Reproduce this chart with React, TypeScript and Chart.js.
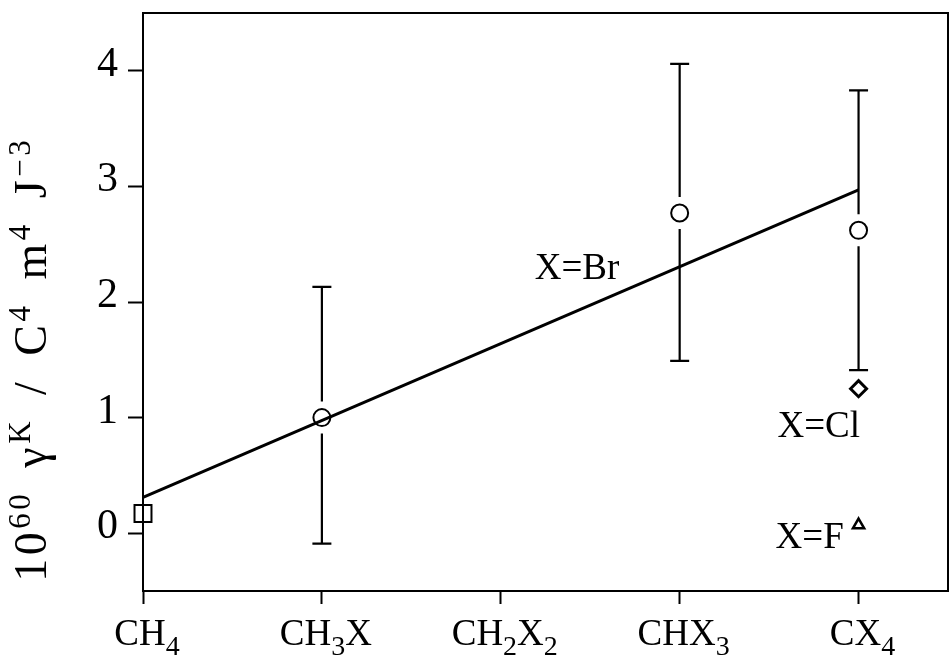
import { useEffect, useRef } from 'react';
import { Chart, registerables } from 'chart.js';

Chart.register(...registerables);

// Category axis: "_" marks a one-character subscript
const categories = ['CH_4', 'CH_3X', 'CH_2X_2', 'CHX_3', 'CX_4'];
const yTicks = [0, 1, 2, 3, 4];
// Axis title: "^{...}" marks a superscript
const yTitle = '10^{60} γ^{K} / C^{4} m^{4} J^{−3}';

// X = Br series (index on the category axis, value and error limits)
const brIndex = [1, 3, 4];
const brValue = [1.0, 2.77, 2.62];
const brLow = [-0.09, 1.49, 1.41];
const brHigh = [2.13, 4.06, 3.83];

// Straight-line fit through the bromide series
const fitIndex = [0, 4];
const fitValue = [0.31, 2.97];

// Single points
const ch4Index = 0;
const ch4Value = 0.17;
const clIndex = 4;
const clValue = 1.25;
const fIndex = 4;
const fValue = 0.07;

// Text labels anchored in data coordinates (left edge, baseline)
const labelText = ['X=Br', 'X=Cl', 'X=F'];
const labelX = [2.19, 3.547, 3.536];
const labelY = [2.2, 0.835, -0.13];

const SERIF = "'Liberation Serif', 'Times New Roman', serif";

type Tok = { t: string; k: 'base' | 'sub' | 'sup' };

function parseRich(s: string): Tok[] {
  const out: Tok[] = [];
  let buf = '';
  const flush = () => {
    if (buf) out.push({ t: buf, k: 'base' });
    buf = '';
  };
  for (let i = 0; i < s.length; i++) {
    const c = s[i];
    if (c === '_') {
      flush();
      out.push({ t: s[i + 1], k: 'sub' });
      i++;
    } else if (c === '^' && s[i + 1] === '{') {
      flush();
      const end = s.indexOf('}', i);
      out.push({ t: s.slice(i + 2, end), k: 'sup' });
      i = end;
    } else {
      buf += c;
    }
  }
  flush();
  return out;
}

type RichStyle = {
  base: number;
  small: number;
  subDy: number;
  supDy: number;
  spacing: number;
  wordGap: number;
};

function advance(ctx: CanvasRenderingContext2D, ch: string, st: RichStyle) {
  return ctx.measureText(ch).width + st.spacing + (ch === ' ' ? st.wordGap : 0);
}

function richWidth(ctx: CanvasRenderingContext2D, toks: Tok[], st: RichStyle) {
  let w = 0;
  for (const tk of toks) {
    ctx.font = `${tk.k === 'base' ? st.base : st.small}px ${SERIF}`;
    for (const ch of tk.t) w += advance(ctx, ch, st);
  }
  return w - st.spacing;
}

function drawRich(ctx: CanvasRenderingContext2D, toks: Tok[], x: number, y: number, st: RichStyle) {
  let cx = x;
  ctx.textAlign = 'left';
  ctx.textBaseline = 'alphabetic';
  for (const tk of toks) {
    ctx.font = `${tk.k === 'base' ? st.base : st.small}px ${SERIF}`;
    const dy = tk.k === 'sub' ? st.subDy : tk.k === 'sup' ? st.supDy : 0;
    for (const ch of tk.t) {
      ctx.fillText(ch, cx, y + dy);
      cx += advance(ctx, ch, st);
    }
  }
}

const decorPlugin = {
  id: 'decor',
  afterDatasetsDraw(chart: any) {
    const { ctx, chartArea, scales } = chart;
    const xs = scales.x;
    const ys = scales.y;
    ctx.save();
    ctx.strokeStyle = '#000';
    ctx.fillStyle = '#000';

    // frame
    ctx.lineWidth = 2;
    ctx.strokeRect(chartArea.left, chartArea.top, chartArea.right - chartArea.left, chartArea.bottom - chartArea.top);

    // error bars, interrupted around the circle markers
    const gap = 16;
    const cap = 9.5;
    ctx.lineWidth = 2.2;
    brIndex.forEach((xi, i) => {
      const px = xs.getPixelForValue(xi);
      const pc = ys.getPixelForValue(brValue[i]);
      const pt = ys.getPixelForValue(brHigh[i]);
      const pb = ys.getPixelForValue(brLow[i]);
      ctx.beginPath();
      ctx.moveTo(px, pt);
      ctx.lineTo(px, pc - gap);
      ctx.moveTo(px, pc + gap);
      ctx.lineTo(px, pb);
      ctx.moveTo(px - cap, pt);
      ctx.lineTo(px + cap, pt);
      ctx.moveTo(px - cap, pb);
      ctx.lineTo(px + cap, pb);
      ctx.stroke();
    });

    // in-plot labels
    ctx.font = `37px ${SERIF}`;
    ctx.textAlign = 'left';
    ctx.textBaseline = 'alphabetic';
    labelText.forEach((t, i) => {
      ctx.fillText(t, xs.getPixelForValue(labelX[i]), ys.getPixelForValue(labelY[i]));
    });

    // category labels with subscripts
    const xStyle: RichStyle = { base: 37, small: 28, subDy: 10, supDy: 0, spacing: 0, wordGap: 0 };
    categories.forEach((c, i) => {
      const toks = parseRich(c);
      const w = richWidth(ctx, toks, xStyle);
      const px = xs.getPixelForValue(i) + 4;
      drawRich(ctx, toks, px - w / 2, chartArea.bottom + 54, xStyle);
    });

    // rotated y-axis title with superscripts
    const tStyle: RichStyle = { base: 46, small: 31, subDy: 0, supDy: -16, spacing: 3.5, wordGap: 8 };
    const toks = parseRich(yTitle);
    const tw = richWidth(ctx, toks, tStyle);
    ctx.translate(46, 361);
    ctx.rotate(-Math.PI / 2);
    drawRich(ctx, toks, -tw / 2, 0, tStyle);
    ctx.restore();
  },
};

export default function App() {
  const ref = useRef<HTMLCanvasElement | null>(null);

  useEffect(() => {
    if (!ref.current) return;
    const point = (x: number, y: number) => ({ x, y });
    const chart = new Chart(ref.current, {
      type: 'scatter',
      data: {
        datasets: [
          {
            type: 'line',
            data: fitIndex.map((x, i) => point(x, fitValue[i])),
            borderColor: '#000',
            borderWidth: 3,
            pointRadius: 0,
            fill: false,
          },
          {
            data: brIndex.map((x, i) => point(x, brValue[i])),
            pointStyle: 'circle',
            pointRadius: 8.5,
            pointBorderWidth: 2,
            pointBorderColor: '#000',
            pointBackgroundColor: '#fff',
          },
          {
            data: [point(ch4Index, ch4Value)],
            pointStyle: 'rect',
            pointRadius: 12,
            pointBorderWidth: 2,
            pointBorderColor: '#000',
            pointBackgroundColor: '#fff',
            clip: false,
          },
          {
            data: [point(clIndex, clValue)],
            pointStyle: 'rectRot',
            pointRadius: 8,
            pointBorderWidth: 3,
            pointBorderColor: '#000',
            pointBackgroundColor: '#fff',
          },
          {
            data: [point(fIndex, fValue)],
            pointStyle: 'triangle',
            pointRadius: 6.5,
            pointBorderWidth: 2.5,
            pointBorderColor: '#000',
            pointBackgroundColor: '#fff',
          },
        ] as any,
      },
      options: {
        animation: false,
        responsive: false,
        maintainAspectRatio: false,
        layout: { autoPadding: false, padding: { top: 13, right: 2, left: 0, bottom: 0 } },
        plugins: { legend: { display: false }, tooltip: { enabled: false } },
        scales: {
          x: {
            type: 'linear',
            min: 0,
            max: 4.5,
            afterBuildTicks: (s: any) => {
              s.ticks = categories.map((_, i) => ({ value: i }));
            },
            afterFit: (s: any) => {
              s.height = 66;
              s.paddingLeft = 0;
              s.paddingRight = 0;
            },
            ticks: { display: false },
            grid: { drawOnChartArea: false, tickLength: 13, tickWidth: 2, tickColor: '#000' },
            border: { display: true, color: '#000', width: 2 },
          },
          y: {
            type: 'linear',
            min: -0.5,
            max: 4.5,
            afterBuildTicks: (s: any) => {
              s.ticks = yTicks.map((v) => ({ value: v }));
            },
            afterFit: (s: any) => {
              s.width = 143;
              s.paddingTop = 0;
              s.paddingBottom = 0;
            },
            ticks: {
              color: '#000',
              padding: 10,
              labelOffset: -6,
              font: { family: SERIF, size: 42 },
              callback: (v: any) => String(v),
            },
            grid: { drawOnChartArea: false, tickLength: 15, tickWidth: 2, tickColor: '#000' },
            border: { display: true, color: '#000', width: 2 },
          },
        },
      },
      plugins: [decorPlugin],
    });
    return () => chart.destroy();
  }, []);

  return (
    <div style={{ position: 'fixed', left: 0, top: 0, width: 950, height: 657, background: '#fff' }}>
      <canvas ref={ref} width={950} height={657} style={{ width: 950, height: 657, display: 'block' }} />
    </div>
  );
}
